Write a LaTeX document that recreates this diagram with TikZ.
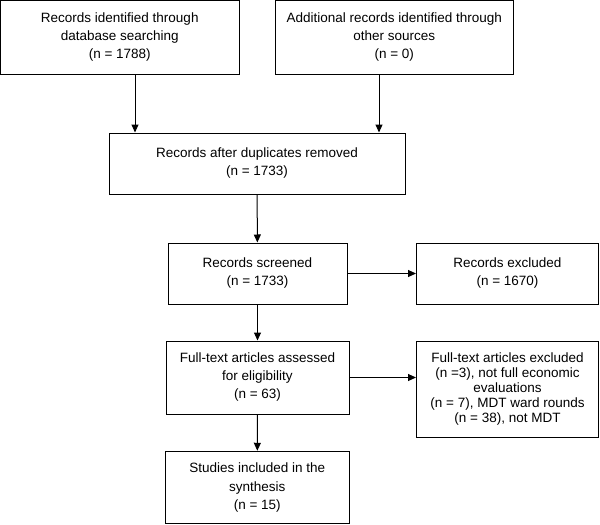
\documentclass[tikz,border=0pt]{standalone}
\usepackage{fontspec}
\setmainfont{Liberation Sans}
\usetikzlibrary{arrows.meta}
\begin{document}
\begin{tikzpicture}[x=1pt,y=-1pt,
  box/.style={draw=black, line width=1pt, inner sep=0pt, align=center,
    font=\fontsize{13.5}{18}\selectfont},
  arr/.style={line width=1pt, -{Triangle[length=8pt,width=7pt]}}]
\useasboundingbox (0,0) rectangle (600,525);
\node[box, minimum width=238.5pt, minimum height=73.5pt] (b1) at (119.75,37.25)
  {Records identified through\\database searching\\(n = 1788)};
\node[box, minimum width=238.5pt, minimum height=73.5pt] (b2) at (394.25,37.25)
  {Additional records identified through\\other sources\\(n = 0)};
\node[box, minimum width=296pt, minimum height=61pt] (b3) at (257,163.5)
  {Records after duplicates removed\\(n = 1733)};
\node[box, minimum width=179pt, minimum height=61pt] (b4) at (257.5,273.5)
  {Records screened\\(n = 1733)};
\node[box, minimum width=182pt, minimum height=61pt] (b5) at (507.5,273.5)
  {Records excluded\\(n = 1670)};
\node[box, minimum width=183pt, minimum height=73pt] (b6) at (257.5,377.5)
  {Full-text articles assessed\\for eligibility\\(n = 63)};
\node[box, minimum width=182pt, minimum height=96pt,
  font=\fontsize{13.5}{15}\selectfont] (b7) at (507.5,389)
  {Full-text articles excluded\\(n =3), not full economic\\evaluations\\(n = 7), MDT ward rounds\\(n = 38), not MDT};
\node[box, minimum width=183.5pt, minimum height=72.5pt] (b8) at (257.25,487.5)
  {Studies included in the\\synthesis\\(n = 15)};
\coordinate (a1) at ([xshift=15.25pt]b1.south);
\coordinate (a2) at ([xshift=-15.25pt]b2.south);
\draw[arr] (a1) -- (a1 |- b3.north);
\draw[arr] (a2) -- (a2 |- b3.north);
\draw[arr] (b3) -- (b4);
\draw[arr] (b4) -- (b5);
\draw[arr] (b4) -- (b6);
\draw[arr] (b6) -- (b6 -| b7.west);
\draw[arr] (b6) -- (b8);
\end{tikzpicture}
\end{document}
